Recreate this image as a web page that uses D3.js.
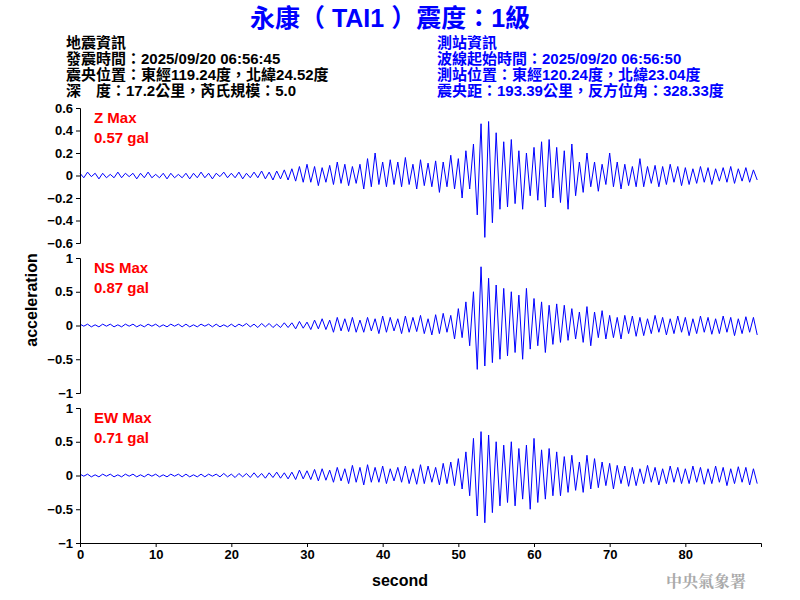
<!DOCTYPE html>
<html><head><meta charset="utf-8">
<script src="https://cdn.jsdelivr.net/npm/d3@7"></script>
<style>body{margin:0;background:#fff}</style>
</head><body><div id="chart"></div>
<script>
// peak samples every 0.5 s
const dt = 0.5;
const zData = [.02,-.02,.03,-.01,.02,-.03,.02,-.02,.01,-.02,.03,-.02,.02,-.01,.02,-.03,.02,-.02,.03,-.02,.01,-.02,.02,-.03,.02,-.02,.01,-.02,
  .02,-.03,.02,-.02,.03,-.02,.02,-.03,.02,-.01,.03,-.02,.02,-.02,.03,-.03,.02,-.02,.03,-.02,.04,-.03,.03,-.04,.04,-.03,.05,-.04,
  .06,-.05,.08,-.06,.1,-.06,.08,-.09,.07,-.06,.09,-.08,.12,-.07,.1,-.09,.08,-.07,.1,-.12,.15,-.1,.2,-.08,.12,-.1,.14,-.08,
  .12,-.1,.16,-.08,.1,-.12,.14,-.09,.11,-.1,.13,-.15,.12,-.1,.18,-.12,.15,-.2,.22,-.12,
  .28,-.35,.46,-.55,.48,-.42,.38,-.3,
  .3,-.28,.32,-.25,.22,-.3,.2,-.18,.25,-.22,.3,-.28,.32,-.2,.25,-.24,.22,-.3,.28,-.18,
  .12,-.15,.2,-.1,.12,-.14,.1,-.08,.2,-.1,.12,-.12,.1,-.09,.08,-.1,.15,-.1,.08,-.07,.09,-.1,.08,-.08,.1,-.06,.08,-.09,.07,-.08,.06,-.07,.08,-.06,.07,-.08,.06,-.05,.07,-.06,.08,-.07,.06,-.05,.07,-.06,.05,-.04];
const nsData = [.02,-.01,.02,-.02,.01,-.02,.02,-.01,.02,-.02,.01,-.02,.02,-.01,.02,-.02,.01,-.02,.02,-.01,.02,-.02,.01,-.02,.02,-.01,.02,-.02,
  .02,-.02,.01,-.02,.02,-.01,.02,-.02,.02,-.02,.01,-.02,.02,-.02,.02,-.01,.03,-.02,.02,-.03,.03,-.02,.03,-.03,.02,-.03,.04,-.03,
  .04,-.05,.06,-.04,.05,-.06,.08,-.05,.1,-.06,.08,-.1,.12,-.08,.1,-.09,.12,-.1,.08,-.1,.12,-.08,.1,-.12,.14,-.1,.12,-.08,
  .1,-.12,.14,-.1,.12,-.09,.15,-.12,.1,-.14,.16,-.12,.18,-.1,.15,-.2,.25,-.18,.35,-.3,
  .5,-.65,.87,-.6,.7,-.55,.6,-.5,
  .55,-.45,.5,-.4,.45,-.5,.55,-.35,.4,-.3,.35,-.4,.3,-.28,.32,-.25,.3,-.22,.25,-.2,
  .2,-.25,.28,-.3,.2,-.18,.22,-.2,.15,-.18,.12,-.2,.15,-.12,.14,-.16,.12,-.15,.1,-.12,.15,-.1,.12,-.14,.1,-.12,.14,-.1,.12,-.15,.1,-.12,.14,-.1,.12,-.13,.1,-.12,.14,-.1,.12,-.15,.1,-.12,.13,-.1,.12,-.14];
const ewData = [.02,-.01,.02,-.02,.01,-.02,.02,-.01,.02,-.02,.01,-.02,.02,-.01,.02,-.02,.01,-.02,.02,-.01,.02,-.02,.01,-.02,.02,-.01,.02,-.02,
  .02,-.02,.01,-.02,.02,-.02,.02,-.01,.02,-.02,.03,-.02,.02,-.03,.03,-.02,.03,-.03,.04,-.03,.03,-.04,.04,-.03,.05,-.04,.04,-.05,
  .05,-.06,.08,-.05,.07,-.06,.09,-.08,.1,-.07,.08,-.1,.12,-.08,.1,-.12,.15,-.1,.12,-.14,.16,-.1,.12,-.1,.14,-.12,.1,-.08,
  .12,-.1,.14,-.12,.1,-.13,.16,-.12,.14,-.1,.12,-.14,.18,-.12,.2,-.15,.25,-.2,.35,-.3,
  .55,-.6,.65,-.7,.6,-.55,.5,-.45,
  .45,-.4,.5,-.45,.4,-.35,.45,-.5,.55,-.4,.38,-.35,.4,-.3,.35,-.3,.28,-.25,.3,-.22,
  .2,-.25,.3,-.2,.25,-.18,.2,-.15,.18,-.2,.15,-.12,.14,-.16,.12,-.15,.1,-.12,.15,-.1,.12,-.14,.1,-.12,.14,-.1,.12,-.12,.1,-.12,.14,-.1,.12,-.13,.1,-.12,.14,-.1,.12,-.15,.1,-.12,.13,-.1,.12,-.14,.1,-.12];

const channels = ["Z", "NS", "EW"];
const maxLabels = ["0.57 gal", "0.87 gal", "0.71 gal"];
const yLimits = [0.6, 1, 1];
const yTicks = [[-0.6,-0.4,-0.2,0,0.2,0.4,0.6], [-1,-0.5,0,0.5,1], [-1,-0.5,0,0.5,1]];
const xTicks = [0,10,20,30,40,50,60,70,80];
const quakeInfo = ["地震資訊", "發震時間：2025/09/20 06:56:45", "震央位置：東經119.24度，北緯24.52度", "深　度：17.2公里，芮氏規模：5.0"];
const stationInfo = ["測站資訊", "波線起始時間：2025/09/20 06:56:50", "測站位置：東經120.24度，北緯23.04度", "震央距：193.39公里，反方位角：328.33度"];

const W = 800, H = 600;
const svg = d3.select("#chart").append("svg").attr("width", W).attr("height", H)
  .style("font-family", "Arial, 'Liberation Sans', 'Noto Sans CJK TC', sans-serif");

svg.append("text").attr("x", 390).attr("y", 27).attr("text-anchor", "middle")
  .attr("fill", "#0000ff").attr("font-size", 25).attr("font-weight", "bold")
  .text("永康（ TAI1 ）震度：1級");

quakeInfo.forEach((t, i) => svg.append("text").attr("x", 66).attr("y", 48 + i * 16)
  .attr("font-size", 15).attr("font-weight", "bold").attr("fill", "#000").text(t));
stationInfo.forEach((t, i) => svg.append("text").attr("x", 437).attr("y", 48 + i * 16)
  .attr("font-size", 15).attr("font-weight", "bold").attr("fill", "#0000ff").text(t));

const x = d3.scaleLinear().domain([0, 90]).range([80, 761]);
const panels = [[108, 243], [258, 393], [408, 543]];
const series = [zData, nsData, ewData];

series.forEach((data, k) => {
  const y = d3.scaleLinear().domain([-yLimits[k], yLimits[k]]).range([panels[k][1], panels[k][0]]);
  const line = d3.line().x((d, i) => x(i * dt)).y(d => y(d));
  svg.append("path").datum(data).attr("d", line)
    .attr("fill", "none").attr("stroke", "#0000ff").attr("stroke-width", 1);
  svg.append("g").attr("transform", "translate(80,0)")
    .call(d3.axisLeft(y).tickValues(yTicks[k]).tickSize(4).tickFormat(d3.format("")))
    .call(g => g.selectAll("text").attr("font-size", 13).attr("font-weight", "bold").attr("fill", "#000"));
  svg.append("text").attr("x", 94).attr("y", panels[k][0] + 15).attr("fill", "#ff0000")
    .attr("font-size", 15).attr("font-weight", "bold").text(channels[k] + " Max");
  svg.append("text").attr("x", 94).attr("y", panels[k][0] + 35).attr("fill", "#ff0000")
    .attr("font-size", 15).attr("font-weight", "bold").text(maxLabels[k]);
});

svg.append("g").attr("transform", "translate(0,543)")
  .call(d3.axisBottom(x).tickValues(xTicks).tickSize(4).tickFormat(d3.format("d")))
  .call(g => g.selectAll("text").attr("font-size", 13).attr("font-weight", "bold").attr("fill", "#000"));

svg.append("text").attr("x", 400).attr("y", 586).attr("text-anchor", "middle")
  .attr("font-size", 16).attr("font-weight", "bold").text("second");
svg.append("text").attr("transform", "translate(37,300) rotate(-90)").attr("text-anchor", "middle")
  .attr("font-size", 16).attr("font-weight", "bold").text("acceleration");
svg.append("text").attr("x", 746).attr("y", 587).attr("text-anchor", "end")
  .attr("font-size", 16).attr("font-weight", "bold").attr("fill", "#aaaaaa")
  .attr("font-family", "'Noto Serif CJK TC', 'Noto Sans CJK TC', serif").text("中央氣象署");
</script></body></html>
